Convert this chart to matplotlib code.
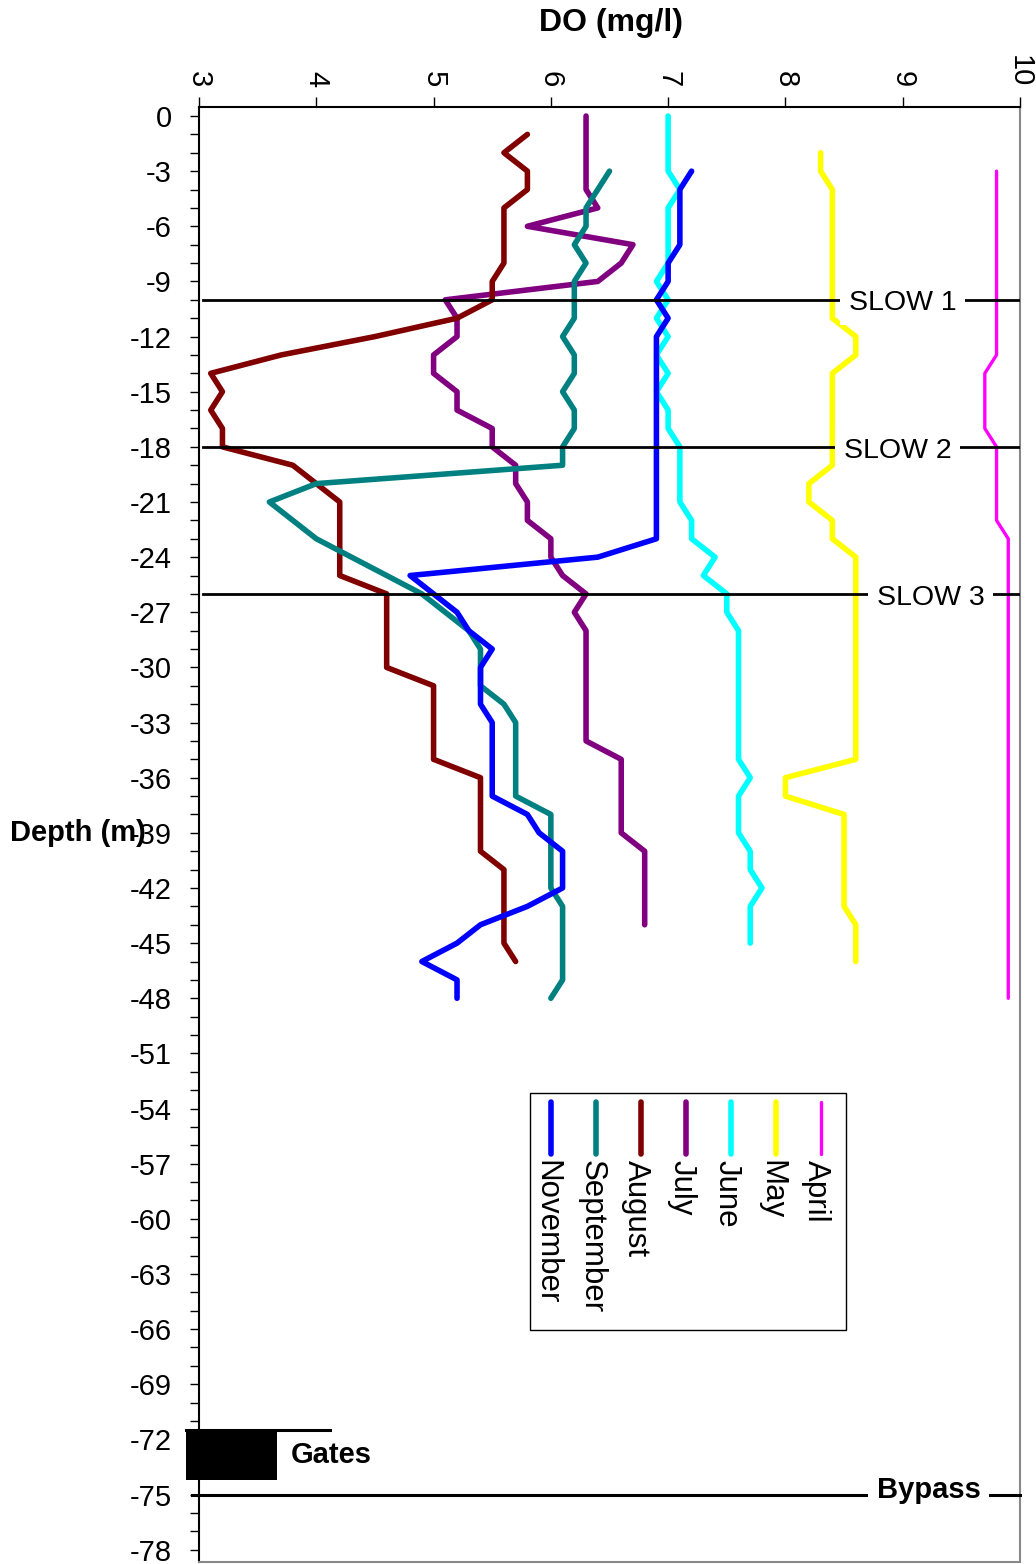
import numpy as np
import matplotlib
matplotlib.use("Agg")
from matplotlib import pyplot as plt
from matplotlib.patches import Rectangle

plt.rcParams['font.family'] = ['Liberation Sans', 'DejaVu Sans']
plt.rcParams['axes.unicode_minus'] = False

# dissolved oxygen profiles, one reading per metre of depth
april_depth = np.arange(-3, -49, -1)
april_do = [9.8, 9.8, 9.8, 9.8, 9.8, 9.8, 9.8, 9.8, 9.8, 9.8, 9.8,
            9.7, 9.7, 9.7, 9.7,
            9.8, 9.8, 9.8, 9.8, 9.8,
            9.9, 9.9, 9.9, 9.9, 9.9, 9.9, 9.9, 9.9, 9.9, 9.9, 9.9, 9.9, 9.9,
            9.9, 9.9, 9.9, 9.9, 9.9, 9.9, 9.9, 9.9, 9.9, 9.9, 9.9, 9.9, 9.9]

may_depth = np.arange(-2, -47, -1)
may_do = [8.3, 8.3, 8.4, 8.4, 8.4, 8.4, 8.4, 8.4, 8.4, 8.4, 8.6, 8.6,
          8.4, 8.4, 8.4, 8.4, 8.4, 8.4, 8.2, 8.2, 8.4, 8.4,
          8.6, 8.6, 8.6, 8.6, 8.6, 8.6, 8.6, 8.6, 8.6, 8.6, 8.6, 8.6,
          8.0, 8.0, 8.5, 8.5, 8.5, 8.5, 8.5, 8.5, 8.6, 8.6, 8.6]

june_depth = np.arange(0, -46, -1)
june_do = [7.0, 7.0, 7.0, 7.0, 7.1, 7.0, 7.0, 7.0, 7.0, 6.9, 7.0, 6.9,
           7.0, 6.9, 7.0, 6.9, 7.0, 7.0, 7.1, 7.1, 7.1, 7.1, 7.2, 7.2,
           7.4, 7.3, 7.5, 7.5, 7.6, 7.6, 7.6, 7.6, 7.6, 7.6, 7.6, 7.6,
           7.7, 7.6, 7.6, 7.6, 7.7, 7.7, 7.8, 7.7, 7.7, 7.7]

july_depth = np.arange(0, -45, -1)
july_do = [6.3, 6.3, 6.3, 6.3, 6.3, 6.4, 5.8, 6.7, 6.6, 6.4, 5.1, 5.2,
           5.2, 5.0, 5.0, 5.2, 5.2, 5.5, 5.5, 5.7, 5.7, 5.8, 5.8, 6.0,
           6.0, 6.1, 6.3, 6.2, 6.3, 6.3, 6.3, 6.3, 6.3, 6.3, 6.3,
           6.6, 6.6, 6.6, 6.6, 6.6, 6.8, 6.8, 6.8, 6.8, 6.8]

august_depth = np.arange(-1, -47, -1)
august_do = [5.8, 5.6, 5.8, 5.8, 5.6, 5.6, 5.6, 5.6, 5.5, 5.5, 5.2, 4.5,
             3.7, 3.1, 3.2, 3.1, 3.2, 3.2, 3.8, 4.0,
             4.2, 4.2, 4.2, 4.2, 4.2, 4.6, 4.6, 4.6, 4.6, 4.6,
             5.0, 5.0, 5.0, 5.0, 5.0, 5.4, 5.4, 5.4, 5.4, 5.4,
             5.6, 5.6, 5.6, 5.6, 5.6, 5.7]

september_depth = np.arange(-3, -49, -1)
september_do = [6.5, 6.4, 6.3, 6.3, 6.2, 6.3, 6.2, 6.2, 6.2, 6.1, 6.2, 6.2,
                6.1, 6.2, 6.2, 6.1, 6.1, 4.0, 3.6, 3.8, 4.0, 4.3, 4.6, 4.9,
                5.1, 5.3, 5.4, 5.4, 5.4, 5.6, 5.7, 5.7, 5.7, 5.7, 5.7,
                6.0, 6.0, 6.0, 6.0, 6.0, 6.1, 6.1, 6.1, 6.1, 6.1, 6.0]

november_depth = np.arange(-3, -49, -1)
november_do = [7.2, 7.1, 7.1, 7.1, 7.1, 7.0, 7.0, 6.9, 7.0,
               6.9, 6.9, 6.9, 6.9, 6.9, 6.9, 6.9, 6.9, 6.9, 6.9, 6.9, 6.9,
               6.4, 4.8, 5.0, 5.2, 5.3, 5.5, 5.4, 5.4, 5.4,
               5.5, 5.5, 5.5, 5.5, 5.5, 5.8, 5.9, 6.1, 6.1, 6.1,
               5.8, 5.4, 5.2, 4.9, 5.2, 5.2]

months = ['April', 'May', 'June', 'July', 'August', 'September', 'November']
colors = ['#FF00FF', '#FFFF00', '#00FFFF', '#800080', '#800000', '#008080', '#0000FF']
profiles = [(april_depth, april_do), (may_depth, may_do), (june_depth, june_do),
            (july_depth, july_do), (august_depth, august_do),
            (september_depth, september_do), (november_depth, november_do)]

slow_depths = [-10, -18, -26]
slow_labels = ['SLOW 1', 'SLOW 2', 'SLOW 3']
slow_label_x = [9.0, 8.955, 9.24]
bypass_depth = -75
gate_top, gate_bottom = -71.5, -74.2

fig = plt.figure(figsize=(10.36, 15.64), dpi=100)
ax = fig.add_axes([199 / 1036, 2 / 1564, 821 / 1036, 1455 / 1564])

for (depth, do), name, c in zip(profiles, months, colors):
    lw = 2.4 if name == 'April' else 4.0
    ax.plot(do, depth, color=c, lw=lw, solid_capstyle='round', solid_joinstyle='round', zorder=3)

# sampling stations
for d, lab, lx in zip(slow_depths, slow_labels, slow_label_x):
    ax.axhline(d, xmin=0.005, color='black', lw=2, zorder=4)
    ax.text(lx, d - 0.2, lab, ha='center', va='center', fontsize=20.5, zorder=5,
            bbox=dict(boxstyle='square,pad=0.3', facecolor='white', edgecolor='none'))

ax.axhline(bypass_depth, xmin=-0.008, color='black', lw=2.2, clip_on=False, zorder=4)
ax.text(9.22, bypass_depth + 0.25, 'Bypass', ha='center', va='center', fontsize=21,
        fontweight='bold', zorder=5,
        bbox=dict(boxstyle='square,pad=0.3', facecolor='white', edgecolor='none'))

# gates
ax.add_patch(Rectangle((2.89, gate_bottom), 0.775, gate_top - gate_bottom,
                       facecolor='black', edgecolor='none', clip_on=False, zorder=4))
ax.plot([2.89, 4.12], [gate_top, gate_top], color='black', lw=2.2, clip_on=False, zorder=4)
ax.text(3.78, -72.85, 'Gates', ha='left', va='center', fontsize=21, fontweight='bold')

ax.set_xlim(3, 10)
ax.set_ylim(-78.67, 0.49)
ax.xaxis.tick_top()
ax.set_xticks(np.arange(3, 11, 1))
ax.set_yticks(np.arange(0, -79, -3))
ax.set_yticks(np.arange(0, -79, -1), minor=True)
ax.tick_params(axis='x', direction='out', length=7, width=1, labelsize=21, pad=7)
ax.tick_params(axis='y', which='both', direction='out', length=6.5, width=1,
               labelsize=21, pad=13)
for lab in ax.get_xticklabels():
    lab.set_rotation(-90)

for side in ['top', 'left']:
    ax.spines[side].set_color('black')
    ax.spines[side].set_linewidth(1.5)
for side in ['right', 'bottom']:
    ax.spines[side].set_color('#888888')
    ax.spines[side].set_linewidth(1.5)

fig.text(611 / 1036, 1 - 23 / 1564, 'DO (mg/l)', ha='center', va='center',
         fontsize=23, fontweight='bold')
fig.text(10 / 1036, 1 - 833 / 1564, 'Depth (m)', ha='left', va='center',
         fontsize=21, fontweight='bold')

# legend, drawn by hand so the entries can be turned sideways
ax.add_patch(Rectangle((0.403, 0.1595), 0.385, 0.1628, transform=ax.transAxes,
                       fill=False, edgecolor='black', lw=1, zorder=5))
for i, (name, c) in enumerate(zip(months, colors)):
    x = 0.758 - i * 0.0548
    lw = 2.4 if name == 'April' else 4.0
    ax.plot([x, x], [0.3162, 0.2804], transform=ax.transAxes, color=c, lw=lw,
            solid_capstyle='round', zorder=6)
    ax.text(x - 0.006, 0.2765, name, transform=ax.transAxes, rotation=-90,
            ha='center', va='top', fontsize=22.5, zorder=6)

fig.savefig('out.png', dpi=100)
